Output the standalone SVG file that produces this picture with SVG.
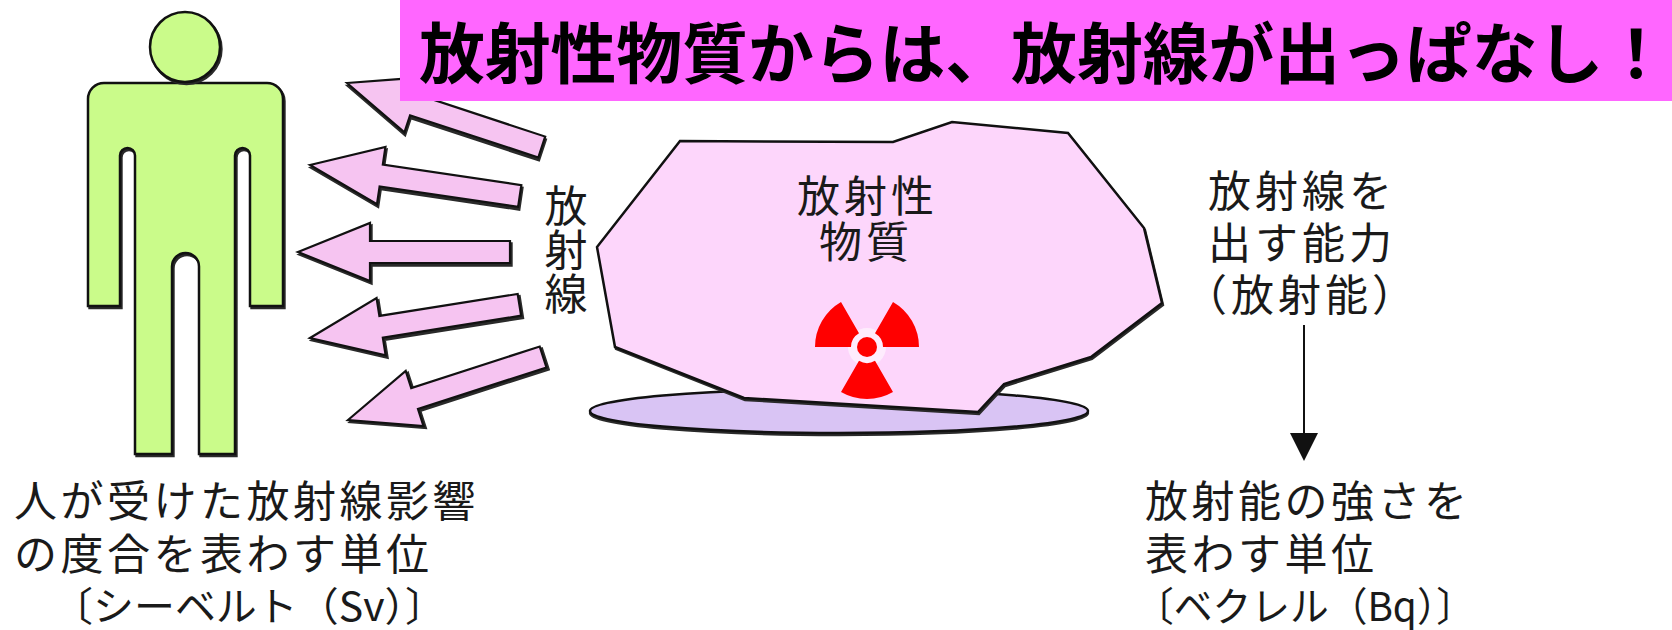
<svg xmlns="http://www.w3.org/2000/svg" xmlns:xlink="http://www.w3.org/1999/xlink" width="1672" height="630" viewBox="0 0 1672 630">
  <style>
    .txt { font-family: "Noto Sans CJK JP", "Noto Sans CJK SC", sans-serif; font-size: 43px; fill: #1a1a1a; }
    .sp { letter-spacing: 3.5px; }
    .sp4 { letter-spacing: 4px; }
    .vert { writing-mode: vertical-rl; letter-spacing: 1px; }
    .unit { font-size: 40px; letter-spacing: 0; }
    .title { font-family: "Noto Sans CJK JP", "Noto Sans CJK SC", sans-serif; font-weight: 700; font-size: 66px; fill: #000; }
    .shadow { fill: #2a2a2a; stroke: #2a2a2a; stroke-width: 2.4; stroke-linejoin: miter; }
    .ray { fill: #F6C4F1; stroke: #111; stroke-width: 2.2; stroke-linejoin: miter; }
    .body { fill: #CAFB8A; stroke: #111; stroke-width: 2.5; }
    .rock { fill: #FDD6FB; stroke: #111; stroke-width: 2.5; stroke-linejoin: miter; }
    .base { fill: #D9C4F4; stroke: #111; stroke-width: 2.5; }
    .trefoil { fill: #FF0000; }
    .link { stroke: #111; stroke-width: 2; fill: none; }
  </style>
  <defs>
    <polygon id="rayLong" points="0,0 72,-29 72,-11 212,-11 212,11 72,11 72,29"/>
    <polygon id="rayShort" points="0,0 70,-29 70,-11 205,-11 205,11 70,11 70,29"/>
    <path id="torso" d="M104,83 H267 A16,16 0 0 1 283,99 V306 H250 V155.5 A7.5,7.5 0 0 0 235,155.5 V454 H199 V266.5 A13.5,13.5 0 0 0 172,266.5 V454 H135 V155.5 A7.5,7.5 0 0 0 120,155.5 V306 H88 V99 A16,16 0 0 1 104,83 Z"/>
    <polygon id="stone" points="680,141 893,142 952,122 1068,133 1144,228 1162,303 1091,357 1004,384 978,412 744,398 615,347 597,247"/>
  </defs>

  <rect width="1672" height="630" fill="#ffffff"/>

  <!-- person -->
  <g id="person">
    <use xlink:href="#torso" class="shadow" transform="translate(1.5,2)"/>
    <use xlink:href="#torso" class="body"/>
    <circle cx="186.5" cy="49" r="35" class="shadow"/>
    <circle cx="185" cy="47" r="35" class="body"/>
  </g>

  <!-- radiation rays aimed at the person -->
  <g id="rays">
    <g transform="translate(347,83) rotate(18.2)">
      <use xlink:href="#rayShort" class="shadow" transform="translate(1.5,2.5)"/>
      <use xlink:href="#rayShort" class="ray"/>
    </g>
    <g transform="translate(310,165) rotate(8.4)">
      <use xlink:href="#rayLong" class="shadow" transform="translate(1.5,2.5)"/>
      <use xlink:href="#rayLong" class="ray"/>
    </g>
    <g transform="translate(298,252)">
      <use xlink:href="#rayLong" class="shadow" transform="translate(1.5,2.5)"/>
      <use xlink:href="#rayLong" class="ray"/>
    </g>
    <g transform="translate(310,338) rotate(-9)">
      <use xlink:href="#rayLong" class="shadow" transform="translate(1.5,2.5)"/>
      <use xlink:href="#rayLong" class="ray"/>
    </g>
    <g transform="translate(348,420) rotate(-17.9)">
      <use xlink:href="#rayShort" class="shadow" transform="translate(1.5,2.5)"/>
      <use xlink:href="#rayShort" class="ray"/>
    </g>
  </g>

  <!-- headline banner -->
  <g id="banner">
    <rect x="400" y="0" width="1272" height="101" fill="#FF66FF"/>
    <text x="419" y="78" class="title" textLength="1250" lengthAdjust="spacingAndGlyphs">放射性物質からは、放射線が出っぱなし！</text>
  </g>

  <!-- radioactive material on its base -->
  <g id="material">
    <ellipse cx="839" cy="413" rx="249" ry="22" class="shadow"/>
    <ellipse cx="839" cy="411" rx="249" ry="22" class="base"/>
    <use xlink:href="#stone" class="shadow" transform="translate(1,2)"/>
    <use xlink:href="#stone" class="rock"/>
    <text class="txt sp4"><tspan x="797" y="212">放射性</tspan><tspan x="819" y="258">物質</tspan></text>
    <g id="trefoil">
      <circle cx="867" cy="347" r="19" fill="#ffffff" opacity="0.55"/>
      <path class="trefoil" d="M851,347 L815,347 A52,52 0 0 1 841,301.97 L859,333.14 A16,16 0 0 0 851,347 Z"/>
      <path class="trefoil" d="M875,333.14 L893,301.97 A52,52 0 0 1 919,347 L883,347 A16,16 0 0 0 875,333.14 Z"/>
      <path class="trefoil" d="M875,360.86 L893,392.03 A52,52 0 0 1 841,392.03 L859,360.86 A16,16 0 0 0 875,360.86 Z"/>
      <circle cx="867" cy="347" r="10" class="trefoil"/>
    </g>
  </g>

  <!-- vertical label for the rays -->
  <g id="ray-label">
    <text x="566" y="184" class="txt vert">放射線</text>
  </g>

  <!-- activity description -->
  <g id="activity">
    <text class="txt sp4"><tspan x="1208" y="207">放射線を</tspan><tspan x="1208" y="259">出す能力</tspan><tspan x="1184" y="311">（放射能）</tspan></text>
  </g>

  <!-- becquerel unit -->
  <g id="becquerel">
    <text class="txt sp"><tspan x="1145" y="517">放射能の強さを</tspan><tspan x="1145" y="570">表わす単位</tspan></text>
    <text x="1135" y="621" class="txt unit" textLength="340" lengthAdjust="spacingAndGlyphs">〔ベクレル（Bq）〕</text>
  </g>

  <!-- sievert unit -->
  <g id="sievert">
    <text class="txt sp"><tspan x="14" y="517">人が受けた放射線影響</tspan><tspan x="14" y="570">の度合を表わす単位</tspan></text>
    <text x="52" y="621" class="txt unit" textLength="394" lengthAdjust="spacingAndGlyphs">〔シーベルト（Sv）〕</text>
  </g>

  <!-- connectors -->
  <g id="connectors">
    <line x1="1304" y1="325" x2="1304" y2="436" class="link"/>
    <polygon points="1290,433 1318,433 1304,461" fill="#111"/>
  </g>
</svg>
